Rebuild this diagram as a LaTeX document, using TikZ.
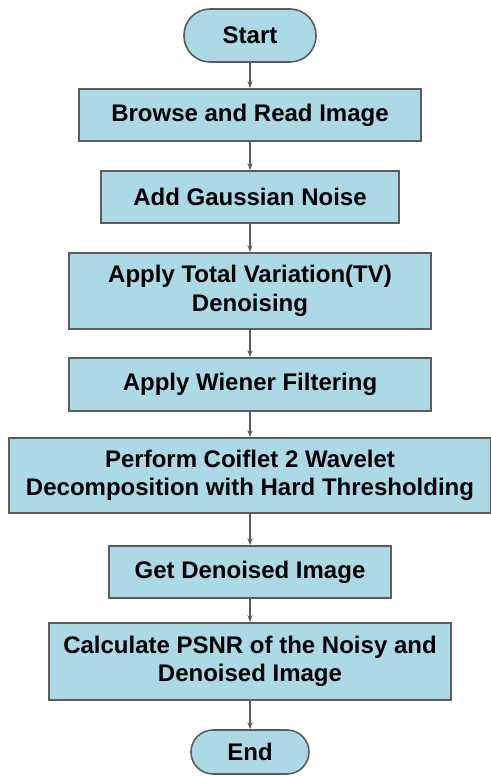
\documentclass[tikz,border=0pt]{standalone}
\usepackage{fontspec}
\setmainfont{Liberation Sans}
\usetikzlibrary{arrows.meta}

\definecolor{boxfill}{HTML}{ADD8E6}
\definecolor{boxline}{HTML}{5C5C5C}

\begin{document}
\begin{tikzpicture}[x=1pt, y=-1pt, >={Stealth[length=7pt, width=5pt]}]
        % Define node styles
        \tikzstyle{process}=[rectangle, draw=boxline, fill=boxfill, line width=1.6pt, inner sep=0pt, align=center, font=\fontsize{24}{28.5}\selectfont\bfseries]
        \tikzstyle{terminal}=[process, minimum height=53pt, rounded corners=26pt]
        \tikzstyle{flow}=[draw=boxline, line width=1.3pt, ->]

        \useasboundingbox (0,0) rectangle (490,776);

        % Start node
        \node [terminal, minimum width=132pt] (start) at (250,35.5) {Start};

        % Processing steps
        \node [process, minimum width=342pt, minimum height=52pt] (browse) at (250,115) {Browse and Read Image};
        \node [process, minimum width=298pt, minimum height=52pt] (noise) at (250,197) {Add Gaussian Noise};
        \node [process, minimum width=362pt, minimum height=76pt] (tv) at (250,291) {Apply Total Variation(TV)\\Denoising};
        \node [process, minimum width=362pt, minimum height=53pt] (wiener) at (250,384.5) {Apply Wiener Filtering};
        \node [process, minimum width=482pt, minimum height=75pt] (coiflet) at (250,475.5) {Perform Coiflet 2 Wavelet\\Decomposition with Hard Thresholding};
        \node [process, minimum width=282pt, minimum height=52pt] (denoised) at (250,572) {Get Denoised Image};
        \node [process, minimum width=402pt, minimum height=77pt] (psnr) at (250,661.5) {Calculate PSNR of the Noisy and\\Denoised Image};

        % End node
        \node [terminal, minimum width=118pt, minimum height=44pt, rounded corners=22pt] (finish) at (250,752) {End};

        % Connect the steps top to bottom
        \foreach \a/\b in {start/browse, browse/noise, noise/tv, tv/wiener, wiener/coiflet, coiflet/denoised, denoised/psnr, psnr/finish}
            \draw [flow] (\a) -- (\b);
    \end{tikzpicture}
\end{document}
